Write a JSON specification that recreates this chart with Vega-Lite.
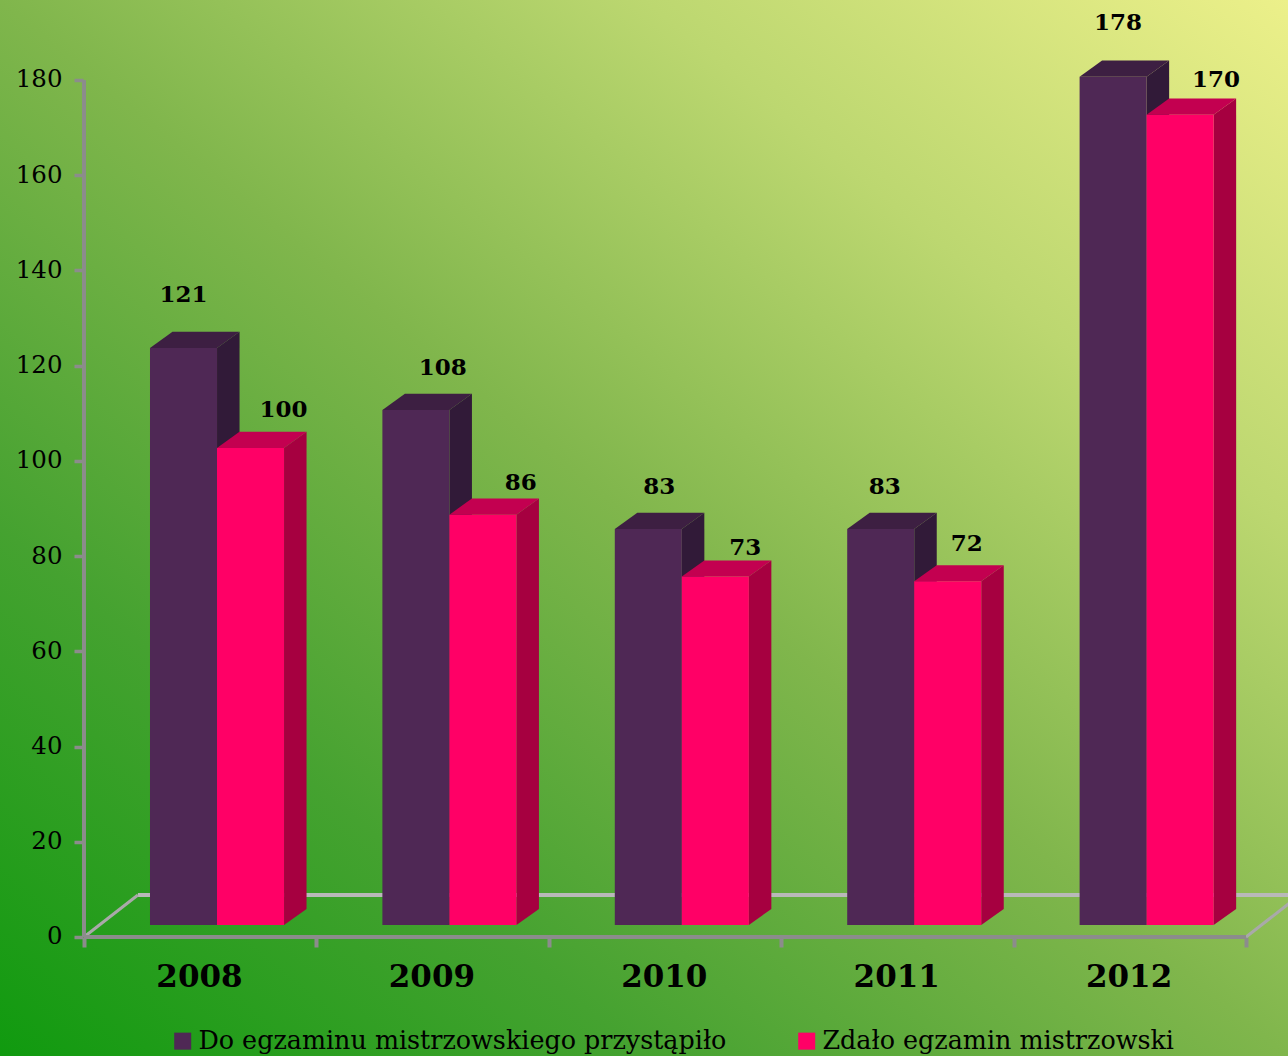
{
"$schema":"https://vega.github.io/schema/vega-lite/v6.json",
"width":1288,"height":1056,"padding":0,"autosize":{"type":"none"},
"view":{"stroke":null,"fill":{"gradient":"linear","x1":0,"y1":1,"x2":1,"y2":0,"stops":[{"offset":0,"color":"#109a0f"},{"offset":0.25,"color":"#45a230"},{"offset":0.5,"color":"#80b64c"},{"offset":0.75,"color":"#bcd770"},{"offset":1,"color":"#ecf08a"}]}},
"config":{"font":"DejaVu Serif"},
"datasets":{"bars":[
{"year":2008,"series":"Do egzaminu mistrzowskiego przystąpiło","value":121},
{"year":2008,"series":"Zdało egzamin mistrzowski","value":100},
{"year":2009,"series":"Do egzaminu mistrzowskiego przystąpiło","value":108},
{"year":2009,"series":"Zdało egzamin mistrzowski","value":86},
{"year":2010,"series":"Do egzaminu mistrzowskiego przystąpiło","value":83},
{"year":2010,"series":"Zdało egzamin mistrzowski","value":73},
{"year":2011,"series":"Do egzaminu mistrzowskiego przystąpiło","value":83},
{"year":2011,"series":"Zdało egzamin mistrzowski","value":72},
{"year":2012,"series":"Do egzaminu mistrzowskiego przystąpiło","value":178},
{"year":2012,"series":"Zdało egzamin mistrzowski","value":170}],
"one":[{"a":1}]},
"data":{"name":"bars"},
"transform":[
{"calculate":"datum.series[0]=='D'?-0.216:0.0723","as":"o0"},
{"calculate":"datum.year+datum.o0","as":"x0"},
{"calculate":"datum.x0+0.2885","as":"x1"},
{"calculate":"datum.x0+0.144","as":"xc"},
{"calculate":"2.7+datum.value","as":"top"},
{"calculate":"2.5","as":"base"},
{"calculate":"datum.year+datum.series","as":"key"}],
"encoding":{
"x":{"type":"quantitative","scale":{"domain":[2007.1386,2012.6807],"nice":false,"zero":false}},
"y":{"type":"quantitative","scale":{"domain":[-25,196.8],"nice":false,"zero":false}}},
"layer":[
{"data":{"name":"one"},"mark":{"type":"rule","color":"#b9b9b9","strokeWidth":4},"encoding":{"x":{"datum":2007.732,"type":"quantitative"},"x2":{"datum":2012.732},"y":{"datum":8.82,"type":"quantitative"}}},
{"data":{"name":"one"},"mark":{"type":"rule","color":"#a9a9a9","strokeWidth":3},"encoding":{"x":{"datum":2007.5,"type":"quantitative"},"x2":{"datum":2007.732},"y":{"datum":0,"type":"quantitative"},"y2":{"datum":8.82}}},
{"data":{"name":"one"},"mark":{"type":"rule","color":"#a9a9a9","strokeWidth":3},"encoding":{"x":{"datum":2012.5,"type":"quantitative"},"x2":{"datum":2012.732},"y":{"datum":0,"type":"quantitative"},"y2":{"datum":8.82}}},
{"data":{"name":"one"},"mark":{"type":"rule","color":"#8c8c8c","strokeWidth":4},"encoding":{"x":{"datum":2007.5,"type":"quantitative"},"y":{"datum":0,"type":"quantitative"},"y2":{"datum":180}}},
{"data":{"name":"one"},"mark":{"type":"rule","color":"#8c8c8c","strokeWidth":4},"encoding":{"x":{"datum":2007.5,"type":"quantitative"},"x2":{"datum":2012.5},"y":{"datum":0,"type":"quantitative"}}},
{"transform":[{"calculate":"[0,1]","as":"k"},{"flatten":["k"]},{"calculate":"datum.x1+datum.k*0.0968","as":"px"},{"calculate":"datum.top+datum.k*3.4","as":"py"},{"calculate":"datum.base+datum.k*3.4","as":"py2"}],
"mark":{"type":"area","orient":"vertical"},
"encoding":{"x":{"field":"px","type":"quantitative"},"y":{"field":"py","type":"quantitative","stack":null},"y2":{"field":"py2"},"detail":{"field":"key"},
"color":{"condition":{"test":"datum.series[0]=='D'","value":"#311a38"},"value":"#a60040"}}},
{"transform":[{"calculate":"[0,1]","as":"k"},{"flatten":["k"]},{"calculate":"datum.x0+datum.k*0.0968","as":"px"},{"calculate":"datum.x1+datum.k*0.0968","as":"px2"},{"calculate":"datum.top+datum.k*3.4","as":"py"}],
"mark":{"type":"area","orient":"horizontal"},
"encoding":{"y":{"field":"py","type":"quantitative"},"x":{"field":"px","type":"quantitative","stack":null},"x2":{"field":"px2"},"detail":{"field":"key"},
"color":{"condition":{"test":"datum.series[0]=='D'","value":"#3d1f42"},"value":"#c30050"}}},
{"mark":{"type":"rect"},
"encoding":{
"x":{"field":"x0","type":"quantitative","axis":{"title":null,"orient":"bottom","offset":-119,"domain":false,"grid":false,"values":[2007.5,2008.5,2009.5,2010.5,2011.5,2012.5],"labelExpr":"datum.value<2012?format(datum.value+0.5,'d'):''","labelOffset":115,"labelFlush":false,"labelOverlap":false,"tickColor":"#8c8c8c","tickWidth":4,"tickSize":10,"labelFontSize":31,"labelFontWeight":"bold","labelColor":"#000","labelFont":"DejaVu Serif","labelPadding":15}},
"x2":{"field":"x1"},
"y":{"field":"top","type":"quantitative","axis":{"title":null,"orient":"left","offset":-83,"domain":false,"grid":false,"values":[0,20,40,60,80,100,120,140,160,180],"tickColor":"#8c8c8c","tickWidth":3.5,"tickSize":9,"labelFontSize":24.5,"labelColor":"#000","labelFont":"DejaVu Serif","labelPadding":12}},
"y2":{"field":"base"},
"color":{"field":"series","type":"nominal","scale":{"domain":["Do egzaminu mistrzowskiego przystąpiło","Zdało egzamin mistrzowski"],"range":["#4f2855","#ff0066"]},
"legend":{"title":null,"orient":"none","legendX":170,"legendY":1028,"direction":"horizontal","columns":2,"symbolType":"square","symbolSize":289,"symbolStrokeWidth":0,"labelFontSize":25.4,"labelColor":"#000","labelFont":"DejaVu Serif","columnPadding":67,"labelOffset":3,"labelLimit":800,"symbolOpacity":1}}}},
{"transform":[{"filter":"datum.year==2008&&datum.series[0]=='D'"}],"mark":{"type":"text","font":"DejaVu Serif","fontWeight":"bold","fontSize":23,"color":"#000","dx":0,"dy":-53},"encoding":{"x":{"field":"xc","type":"quantitative"},"y":{"field":"top","type":"quantitative"},"text":{"field":"value"}}},
{"transform":[{"filter":"datum.year==2008&&datum.series[0]=='Z'"}],"mark":{"type":"text","font":"DejaVu Serif","fontWeight":"bold","fontSize":23,"color":"#000","dx":33,"dy":-38},"encoding":{"x":{"field":"xc","type":"quantitative"},"y":{"field":"top","type":"quantitative"},"text":{"field":"value"}}},
{"transform":[{"filter":"datum.year==2009&&datum.series[0]=='D'"}],"mark":{"type":"text","font":"DejaVu Serif","fontWeight":"bold","fontSize":23,"color":"#000","dx":27,"dy":-42},"encoding":{"x":{"field":"xc","type":"quantitative"},"y":{"field":"top","type":"quantitative"},"text":{"field":"value"}}},
{"transform":[{"filter":"datum.year==2009&&datum.series[0]=='Z'"}],"mark":{"type":"text","font":"DejaVu Serif","fontWeight":"bold","fontSize":23,"color":"#000","dx":38,"dy":-32},"encoding":{"x":{"field":"xc","type":"quantitative"},"y":{"field":"top","type":"quantitative"},"text":{"field":"value"}}},
{"transform":[{"filter":"datum.year==2010&&datum.series[0]=='D'"}],"mark":{"type":"text","font":"DejaVu Serif","fontWeight":"bold","fontSize":23,"color":"#000","dx":11,"dy":-42},"encoding":{"x":{"field":"xc","type":"quantitative"},"y":{"field":"top","type":"quantitative"},"text":{"field":"value"}}},
{"transform":[{"filter":"datum.year==2010&&datum.series[0]=='Z'"}],"mark":{"type":"text","font":"DejaVu Serif","fontWeight":"bold","fontSize":23,"color":"#000","dx":30,"dy":-29},"encoding":{"x":{"field":"xc","type":"quantitative"},"y":{"field":"top","type":"quantitative"},"text":{"field":"value"}}},
{"transform":[{"filter":"datum.year==2011&&datum.series[0]=='D'"}],"mark":{"type":"text","font":"DejaVu Serif","fontWeight":"bold","fontSize":23,"color":"#000","dx":4,"dy":-42},"encoding":{"x":{"field":"xc","type":"quantitative"},"y":{"field":"top","type":"quantitative"},"text":{"field":"value"}}},
{"transform":[{"filter":"datum.year==2011&&datum.series[0]=='Z'"}],"mark":{"type":"text","font":"DejaVu Serif","fontWeight":"bold","fontSize":23,"color":"#000","dx":19,"dy":-37},"encoding":{"x":{"field":"xc","type":"quantitative"},"y":{"field":"top","type":"quantitative"},"text":{"field":"value"}}},
{"transform":[{"filter":"datum.year==2012&&datum.series[0]=='D'"}],"mark":{"type":"text","font":"DejaVu Serif","fontWeight":"bold","fontSize":23,"color":"#000","dx":5,"dy":-54},"encoding":{"x":{"field":"xc","type":"quantitative"},"y":{"field":"top","type":"quantitative"},"text":{"field":"value"}}},
{"transform":[{"filter":"datum.year==2012&&datum.series[0]=='Z'"}],"mark":{"type":"text","font":"DejaVu Serif","fontWeight":"bold","fontSize":23,"color":"#000","dx":36,"dy":-35},"encoding":{"x":{"field":"xc","type":"quantitative"},"y":{"field":"top","type":"quantitative"},"text":{"field":"value"}}}
]
}
